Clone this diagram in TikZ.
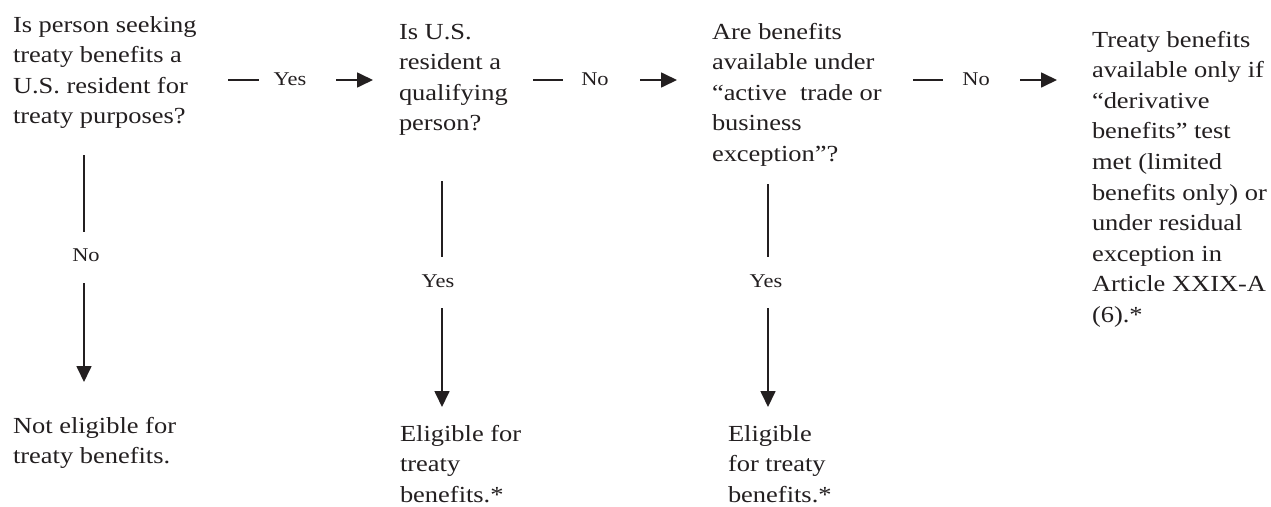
\documentclass[tikz,border=0pt]{standalone}
\usepackage{fontspec}
\setmainfont{Liberation Serif}[FakeStretch=1.15]
\usetikzlibrary{arrows.meta}
\definecolor{ink}{RGB}{35,31,32}
\newcommand\blk[1]{\begin{tabular}[t]{@{}l@{}}#1\end{tabular}}
\begin{document}
\begin{tikzpicture}[x=1pt,y=-1pt,
  txt/.style={anchor=base west, inner sep=0pt, outer sep=0pt, text=ink, font=\fontsize{23}{30.6}\selectfont},
  lbl/.style={anchor=base, inner sep=0pt, outer sep=0pt, text=ink, font=\fontsize{19.5}{22}\selectfont},
  conn/.style={draw=ink, line width=1.7pt},
  arr/.style={conn, -{Triangle[length=16pt,width=15pt]}}]
\fill[white] (0,0) rectangle (1271,506);
\useasboundingbox (0,0) rectangle (1271,506);

% text blocks
\node[txt] (q1) at (13,32) {\blk{Is person seeking\\treaty benefits a\\U.S. resident for\\treaty purposes?}};
\node[txt] (q2) at (399,39) {\blk{Is U.S.\\resident a\\qualifying\\person?}};
\node[txt] (q3) at (712,39) {\blk{Are benefits\\available under\\“active\ \ trade or\\business\\exception”?}};
\node[txt] (q4) at (1092,47) {\blk{Treaty benefits\\available only if\\“derivative\\benefits” test\\met (limited\\benefits only) or\\under residual\\exception in\\Article XXIX-A\\(6).*}};
\node[txt] (r1) at (13,433) {\blk{Not eligible for\\treaty benefits.}};
\node[txt] (r2) at (400,441) {\blk{Eligible for\\treaty\\benefits.*}};
\node[txt] (r3) at (728,441) {\blk{Eligible\\for treaty\\benefits.*}};

% labels
\node[lbl] (yes1) at (290,85) {Yes};
\node[lbl] (no2) at (595,85) {No};
\node[lbl] (no3) at (976,85) {No};
\node[lbl] (no1) at (86,261) {No};
\node[lbl] (yes2) at (438,287) {Yes};
\node[lbl] (yes3) at (766,287) {Yes};

% connector end points
\coordinate (h1a) at (228,80); \coordinate (h1b) at (259,80);
\coordinate (h1c) at (336,80); \coordinate (h1d) at (373,80);
\coordinate (h2a) at (533,80); \coordinate (h2b) at (563,80);
\coordinate (h2c) at (640,80); \coordinate (h2d) at (677,80);
\coordinate (h3a) at (913,80); \coordinate (h3b) at (943,80);
\coordinate (h3c) at (1020,80); \coordinate (h3d) at (1057,80);
\coordinate (v1a) at (84,155); \coordinate (v1b) at (84,232);
\coordinate (v1c) at (84,283); \coordinate (v1d) at (84,382);
\coordinate (v2a) at (442,181); \coordinate (v2b) at (442,257);
\coordinate (v2c) at (442,308); \coordinate (v2d) at (442,407);
\coordinate (v3a) at (768,184); \coordinate (v3b) at (768,257);
\coordinate (v3c) at (768,308); \coordinate (v3d) at (768,407);

% connectors
\draw[conn] (h1a) -- (h1b); \draw[arr] (h1c) -- (h1d);
\draw[conn] (h2a) -- (h2b); \draw[arr] (h2c) -- (h2d);
\draw[conn] (h3a) -- (h3b); \draw[arr] (h3c) -- (h3d);
\draw[conn] (v1a) -- (v1b); \draw[arr] (v1c) -- (v1d);
\draw[conn] (v2a) -- (v2b); \draw[arr] (v2c) -- (v2d);
\draw[conn] (v3a) -- (v3b); \draw[arr] (v3c) -- (v3d);
\end{tikzpicture}
\end{document}
